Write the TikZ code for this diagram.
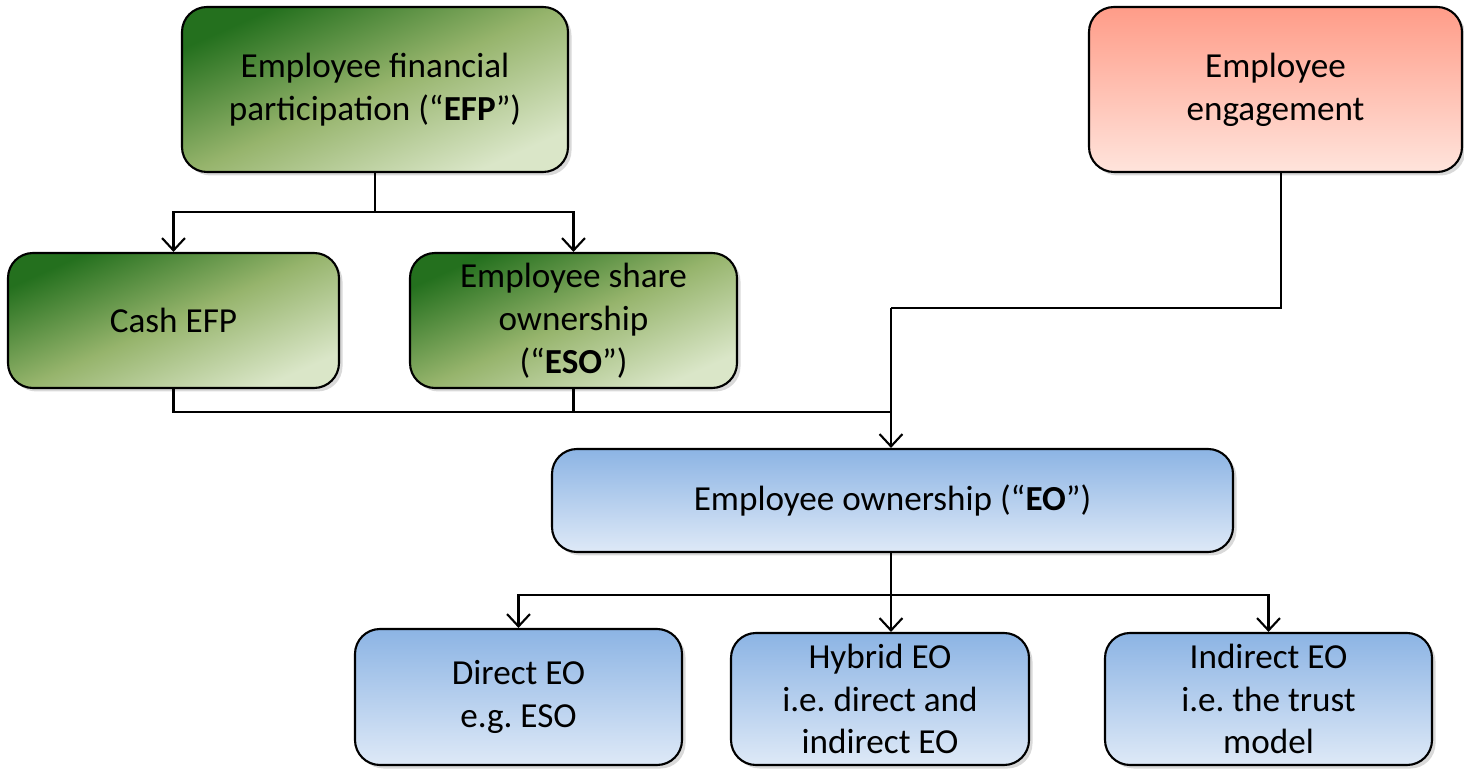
\documentclass[tikz,border=0pt]{standalone}
\usepackage{fontspec}
\setmainfont{Carlito}
\usetikzlibrary{arrows.meta}
\usetikzlibrary{shadows}
\usetikzlibrary{calc}
\frenchspacing

\definecolor{gdark}{RGB}{36,112,30}
\definecolor{gmid}{RGB}{150,180,108}
\definecolor{glight}{RGB}{218,230,200}
\definecolor{rtop}{RGB}{255,156,136}
\definecolor{rbot}{RGB}{255,228,220}
\definecolor{btop}{RGB}{140,180,228}
\definecolor{bbot}{RGB}{222,233,247}

\begin{document}
\begin{tikzpicture}[
    box/.style={draw=black, line width=1.2pt, rounded corners=0.5cm, align=center,
        font=\fontsize{20}{24.4}\selectfont, inner sep=2pt,
        drop shadow={opacity=0.3, shadow xshift=0.07cm, shadow yshift=-0.07cm}},
    greenbox/.style={box, top color=gdark, bottom color=glight, middle color=gmid, shading angle=24},
    redbox/.style={box, top color=rtop, bottom color=rbot},
    bluebox/.style={box, top color=btop, bottom color=bbot},
    arr/.style={line width=1.2pt, -{Straight Barb[length=7pt,width=13pt,line width=1.2pt]}},
    ln/.style={line width=1.2pt}
]
    \useasboundingbox (0,0) rectangle (29.28,15.36);

    % top row
    \node[greenbox, minimum width=7.72cm, minimum height=3.3cm] (efp) at (7.5,13.57)
        {Employee financial\\participation (“\textbf{EFP}”)};
    \node[redbox, minimum width=7.46cm, minimum height=3.3cm] (engage) at (25.51,13.57)
        {Employee\\engagement};

    % middle row
    \node[greenbox, minimum width=6.62cm, minimum height=2.7cm] (cash) at (3.47,8.95) {Cash EFP};
    \node[greenbox, minimum width=6.54cm, minimum height=2.7cm] (eso) at (11.47,8.95)
        {Employee share\\ownership\\(“\textbf{ESO}”)};
    \node[bluebox, minimum width=13.62cm, minimum height=2.06cm] (eo) at (17.85,5.35)
        {Employee ownership (“\textbf{EO}”)};

    % bottom row
    \node[bluebox, minimum width=6.54cm, minimum height=2.72cm] (direct) at (10.37,1.42)
        {Direct EO\\e.g. ESO};
    \node[bluebox, minimum width=5.96cm, minimum height=2.64cm] (hybrid) at (17.6,1.38)
        {Hybrid EO\\i.e. direct and\\indirect EO};
    \node[bluebox, minimum width=6.54cm, minimum height=2.64cm] (indirect) at (25.37,1.38)
        {Indirect EO\\i.e. the trust\\model};

    % connectors
    \coordinate (split) at (7.5,11.12);
    \coordinate (merge) at (17.82,7.12);
    \coordinate (join) at (17.82,9.2);
    \coordinate (fork) at (17.82,3.46);
    \coordinate (stem) at ($(engage.south)+(0.11,0)$);

    \draw[ln] (efp.south) -- (split);
    \draw[arr] (split) -| (cash.north);
    \draw[arr] (split) -| (eso.north);

    \draw[ln] (cash.south) |- (merge);
    \draw[ln] (eso.south) |- (merge);
    \draw[ln] (stem) |- (join);
    \draw[arr] (join) -- (join |- eo.north);

    \draw[ln] (fork |- eo.south) -- (fork);
    \draw[arr] (fork) -| (direct.north);
    \draw[arr] (fork) -- (fork |- hybrid.north);
    \draw[arr] (fork) -| (indirect.north);
\end{tikzpicture}
\end{document}
